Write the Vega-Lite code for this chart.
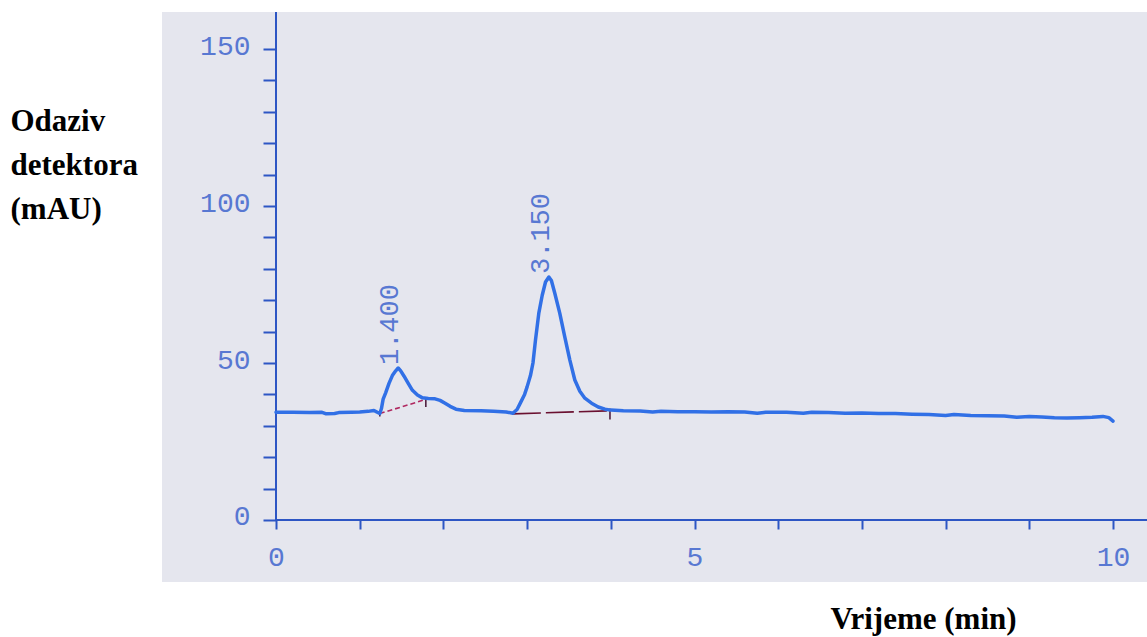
{
  "$schema": "https://vega.github.io/schema/vega-lite/v6.json",
  "width": 985,
  "height": 570,
  "autosize": "none",
  "padding": {"left": 162, "top": 12, "right": 0, "bottom": 55},
  "background": "white",
  "config": {"view": {"stroke": null, "fill": "#e5e6ee"}},
  "datasets": {
    "frame": [{"part": "axes"}],
    "curve": [
      {"t": 0, "v": 34.3}, {"t": 0.2, "v": 34.3}, {"t": 0.4, "v": 34.2}, {"t": 0.55, "v": 34.3}, {"t": 0.6, "v": 33.8},
      {"t": 0.7, "v": 33.9}, {"t": 0.75, "v": 34.2}, {"t": 0.9, "v": 34.3}, {"t": 1.0, "v": 34.4}, {"t": 1.1, "v": 34.6},
      {"t": 1.17, "v": 34.9}, {"t": 1.21, "v": 34.3}, {"t": 1.24, "v": 33.9}, {"t": 1.26, "v": 35.5}, {"t": 1.28, "v": 38.5},
      {"t": 1.31, "v": 40.5}, {"t": 1.35, "v": 43.5}, {"t": 1.39, "v": 46.0}, {"t": 1.43, "v": 47.5}, {"t": 1.46, "v": 48.4},
      {"t": 1.49, "v": 47.5}, {"t": 1.53, "v": 45.8}, {"t": 1.58, "v": 43.5}, {"t": 1.63, "v": 41.3}, {"t": 1.69, "v": 39.8},
      {"t": 1.75, "v": 38.9}, {"t": 1.82, "v": 38.7}, {"t": 1.9, "v": 38.6}, {"t": 1.96, "v": 38.1}, {"t": 2.02, "v": 37.2},
      {"t": 2.08, "v": 36.2}, {"t": 2.15, "v": 35.3}, {"t": 2.25, "v": 34.9}, {"t": 2.45, "v": 34.8}, {"t": 2.6, "v": 34.6},
      {"t": 2.75, "v": 34.4}, {"t": 2.83, "v": 34.0}, {"t": 2.88, "v": 35.2}, {"t": 2.92, "v": 37.3}, {"t": 2.97, "v": 40.0},
      {"t": 3.0, "v": 42.4}, {"t": 3.04, "v": 46.0}, {"t": 3.07, "v": 50.0}, {"t": 3.1, "v": 57.3}, {"t": 3.14, "v": 65.9},
      {"t": 3.18, "v": 71.5}, {"t": 3.22, "v": 75.8}, {"t": 3.26, "v": 77.4}, {"t": 3.29, "v": 76.3}, {"t": 3.33, "v": 72.3},
      {"t": 3.39, "v": 65.9}, {"t": 3.45, "v": 58.3}, {"t": 3.51, "v": 51.0}, {"t": 3.57, "v": 44.6}, {"t": 3.63, "v": 41.0},
      {"t": 3.69, "v": 38.8}, {"t": 3.77, "v": 37.2}, {"t": 3.85, "v": 36.0}, {"t": 3.93, "v": 35.3}, {"t": 4.0, "v": 35.0},
      {"t": 4.15, "v": 34.8}, {"t": 4.35, "v": 34.7}, {"t": 4.5, "v": 34.4}, {"t": 4.6, "v": 34.6}, {"t": 4.8, "v": 34.5},
      {"t": 5.0, "v": 34.5}, {"t": 5.2, "v": 34.4}, {"t": 5.4, "v": 34.5}, {"t": 5.6, "v": 34.4}, {"t": 5.75, "v": 34.0},
      {"t": 5.85, "v": 34.3}, {"t": 6.1, "v": 34.3}, {"t": 6.3, "v": 34.0}, {"t": 6.4, "v": 34.3}, {"t": 6.6, "v": 34.2},
      {"t": 6.8, "v": 34.0}, {"t": 7.0, "v": 34.1}, {"t": 7.2, "v": 33.9}, {"t": 7.4, "v": 33.9}, {"t": 7.6, "v": 33.7},
      {"t": 7.8, "v": 33.6}, {"t": 8.0, "v": 33.3}, {"t": 8.1, "v": 33.6}, {"t": 8.3, "v": 33.3}, {"t": 8.5, "v": 33.2},
      {"t": 8.7, "v": 33.1}, {"t": 8.85, "v": 32.7}, {"t": 9.0, "v": 33.0}, {"t": 9.15, "v": 32.8}, {"t": 9.3, "v": 32.6},
      {"t": 9.45, "v": 32.5}, {"t": 9.6, "v": 32.6}, {"t": 9.75, "v": 32.7}, {"t": 9.88, "v": 33.0}, {"t": 9.95, "v": 32.6},
      {"t": 10.0, "v": 31.5}
    ],
    "peaks": [
      {"t": 1.46, "v": 48.4, "label": "1.400"},
      {"t": 3.26, "v": 77.4, "label": "3.150"}
    ],
    "segs": [
      {"kind": "b1", "t": 1.24, "v": 33.9, "t2": 1.79, "v2": 38.4},
      {"kind": "b2", "t": 2.83, "v": 33.8, "t2": 3.99, "v2": 34.8},
      {"kind": "m", "t": 1.24, "v": 33.0, "t2": 1.24, "v2": 35.0},
      {"kind": "m", "t": 1.79, "v": 36.0, "t2": 1.79, "v2": 39.0},
      {"kind": "m", "t": 3.99, "v": 32.0, "t2": 3.99, "v2": 35.5}
    ]
  },
  "layer": [
    {
      "data": {"name": "frame"},
      "mark": {"type": "rule", "color": "#2d56c4", "strokeWidth": 2},
      "encoding": {
        "x": {"datum": 0, "type": "quantitative", "scale": {"domain": [-1.362, 10.406], "nice": false, "zero": false},
          "axis": {"values": [0, 1, 2, 3, 4, 5, 6, 7, 8, 9, 10], "format": "d", "labelExpr": "datum.value % 5 == 0 ? datum.label : ''", "grid": false, "zindex": 1, "domain": false, "offset": -62, "tickColor": "#2d56c4", "tickWidth": 2, "tickSize": 9, "labelFont": "Liberation Mono", "labelFontSize": 28, "labelColor": "#5878d2", "labelPadding": 14, "labelFlush": false, "labelOverlap": false, "title": "Vrijeme (min)", "titleX": 761, "titleY": 108, "titleAlign": "center", "titleBaseline": "alphabetic", "titleAngle": 0, "titleFont": "Liberation Serif", "titleFontWeight": "bold", "titleFontSize": 31, "titleColor": "#000000"}},
        "y": {"datum": 0, "type": "quantitative", "scale": {"domain": [-19.75, 161.8], "nice": false, "zero": false},
          "axis": {"values": [0, 10, 20, 30, 40, 50, 60, 70, 80, 90, 100, 110, 120, 130, 140, 150], "format": "d", "labelExpr": "datum.value % 50 == 0 ? datum.label : ''", "grid": false, "zindex": 1, "domain": false, "offset": -114, "tickColor": "#2d56c4", "tickWidth": 2, "tickSize": 13, "labelFont": "Liberation Mono", "labelFontSize": 28, "labelColor": "#5878d2", "labelPadding": 13, "labelOffset": -3, "labelOverlap": false, "title": ["Odaziv", "detektora", "(mAU)"], "titleX": -266, "titleY": 118, "titleAlign": "left", "titleBaseline": "alphabetic", "titleAngle": 0, "titleLineHeight": 44, "titleFont": "Liberation Serif", "titleFontWeight": "bold", "titleFontSize": 31, "titleColor": "#000000"}},
        "y2": {"datum": 161.8}
      }
    },
    {
      "data": {"name": "frame"},
      "mark": {"type": "rule", "color": "#2d56c4", "strokeWidth": 2},
      "encoding": {
        "x": {"datum": 0, "type": "quantitative", "scale": {"domain": [-1.362, 10.406], "nice": false, "zero": false},
          "axis": {"values": [0, 1, 2, 3, 4, 5, 6, 7, 8, 9, 10], "format": "d", "labelExpr": "datum.value % 5 == 0 ? datum.label : ''", "grid": false, "zindex": 1, "domain": false, "offset": -62, "tickColor": "#2d56c4", "tickWidth": 2, "tickSize": 9, "labelFont": "Liberation Mono", "labelFontSize": 28, "labelColor": "#5878d2", "labelPadding": 14, "labelFlush": false, "labelOverlap": false, "title": "Vrijeme (min)", "titleX": 761, "titleY": 108, "titleAlign": "center", "titleBaseline": "alphabetic", "titleAngle": 0, "titleFont": "Liberation Serif", "titleFontWeight": "bold", "titleFontSize": 31, "titleColor": "#000000"}},
        "x2": {"datum": 10.406},
        "y": {"datum": 0, "type": "quantitative", "scale": {"domain": [-19.75, 161.8], "nice": false, "zero": false},
          "axis": {"values": [0, 10, 20, 30, 40, 50, 60, 70, 80, 90, 100, 110, 120, 130, 140, 150], "format": "d", "labelExpr": "datum.value % 50 == 0 ? datum.label : ''", "grid": false, "zindex": 1, "domain": false, "offset": -114, "tickColor": "#2d56c4", "tickWidth": 2, "tickSize": 13, "labelFont": "Liberation Mono", "labelFontSize": 28, "labelColor": "#5878d2", "labelPadding": 13, "labelOffset": -3, "labelOverlap": false, "title": ["Odaziv", "detektora", "(mAU)"], "titleX": -266, "titleY": 118, "titleAlign": "left", "titleBaseline": "alphabetic", "titleAngle": 0, "titleLineHeight": 44, "titleFont": "Liberation Serif", "titleFontWeight": "bold", "titleFontSize": 31, "titleColor": "#000000"}}
      }
    },
    {
      "data": {"name": "segs"},
      "mark": {"type": "rule", "strokeWidth": 1.6},
      "encoding": {
        "x": {"field": "t", "type": "quantitative", "scale": {"domain": [-1.362, 10.406], "nice": false, "zero": false},
          "axis": {"values": [0, 1, 2, 3, 4, 5, 6, 7, 8, 9, 10], "format": "d", "labelExpr": "datum.value % 5 == 0 ? datum.label : ''", "grid": false, "zindex": 1, "domain": false, "offset": -62, "tickColor": "#2d56c4", "tickWidth": 2, "tickSize": 9, "labelFont": "Liberation Mono", "labelFontSize": 28, "labelColor": "#5878d2", "labelPadding": 14, "labelFlush": false, "labelOverlap": false, "title": "Vrijeme (min)", "titleX": 761, "titleY": 108, "titleAlign": "center", "titleBaseline": "alphabetic", "titleAngle": 0, "titleFont": "Liberation Serif", "titleFontWeight": "bold", "titleFontSize": 31, "titleColor": "#000000"}},
        "x2": {"field": "t2"},
        "y": {"field": "v", "type": "quantitative", "scale": {"domain": [-19.75, 161.8], "nice": false, "zero": false},
          "axis": {"values": [0, 10, 20, 30, 40, 50, 60, 70, 80, 90, 100, 110, 120, 130, 140, 150], "format": "d", "labelExpr": "datum.value % 50 == 0 ? datum.label : ''", "grid": false, "zindex": 1, "domain": false, "offset": -114, "tickColor": "#2d56c4", "tickWidth": 2, "tickSize": 13, "labelFont": "Liberation Mono", "labelFontSize": 28, "labelColor": "#5878d2", "labelPadding": 13, "labelOffset": -3, "labelOverlap": false, "title": ["Odaziv", "detektora", "(mAU)"], "titleX": -266, "titleY": 118, "titleAlign": "left", "titleBaseline": "alphabetic", "titleAngle": 0, "titleLineHeight": 44, "titleFont": "Liberation Serif", "titleFontWeight": "bold", "titleFontSize": 31, "titleColor": "#000000"}},
        "y2": {"field": "v2"},
        "color": {"field": "kind", "type": "nominal", "scale": {"domain": ["b1", "b2", "m"], "range": ["#b02860", "#6a1030", "#502040"]}, "legend": null},
        "strokeDash": {"field": "kind", "type": "nominal", "scale": {"domain": ["b1", "b2", "m"], "range": [[5, 3], [28, 5], [1, 0]]}, "legend": null}
      }
    },
    {
      "data": {"name": "curve"},
      "mark": {"type": "line", "color": "#3170e6", "strokeWidth": 3.5, "strokeJoin": "round", "strokeCap": "round"},
      "encoding": {
        "x": {"field": "t", "type": "quantitative", "scale": {"domain": [-1.362, 10.406], "nice": false, "zero": false},
          "axis": {"values": [0, 1, 2, 3, 4, 5, 6, 7, 8, 9, 10], "format": "d", "labelExpr": "datum.value % 5 == 0 ? datum.label : ''", "grid": false, "zindex": 1, "domain": false, "offset": -62, "tickColor": "#2d56c4", "tickWidth": 2, "tickSize": 9, "labelFont": "Liberation Mono", "labelFontSize": 28, "labelColor": "#5878d2", "labelPadding": 14, "labelFlush": false, "labelOverlap": false, "title": "Vrijeme (min)", "titleX": 761, "titleY": 108, "titleAlign": "center", "titleBaseline": "alphabetic", "titleAngle": 0, "titleFont": "Liberation Serif", "titleFontWeight": "bold", "titleFontSize": 31, "titleColor": "#000000"}},
        "y": {"field": "v", "type": "quantitative", "scale": {"domain": [-19.75, 161.8], "nice": false, "zero": false},
          "axis": {"values": [0, 10, 20, 30, 40, 50, 60, 70, 80, 90, 100, 110, 120, 130, 140, 150], "format": "d", "labelExpr": "datum.value % 50 == 0 ? datum.label : ''", "grid": false, "zindex": 1, "domain": false, "offset": -114, "tickColor": "#2d56c4", "tickWidth": 2, "tickSize": 13, "labelFont": "Liberation Mono", "labelFontSize": 28, "labelColor": "#5878d2", "labelPadding": 13, "labelOffset": -3, "labelOverlap": false, "title": ["Odaziv", "detektora", "(mAU)"], "titleX": -266, "titleY": 118, "titleAlign": "left", "titleBaseline": "alphabetic", "titleAngle": 0, "titleLineHeight": 44, "titleFont": "Liberation Serif", "titleFontWeight": "bold", "titleFontSize": 31, "titleColor": "#000000"}}
      }
    },
    {
      "data": {"name": "peaks"},
      "mark": {"type": "text", "angle": 270, "align": "left", "baseline": "alphabetic", "dx": 3,
               "font": "Liberation Mono", "fontSize": 27, "color": "#5878d2"},
      "encoding": {
        "x": {"field": "t", "type": "quantitative", "scale": {"domain": [-1.362, 10.406], "nice": false, "zero": false},
          "axis": {"values": [0, 1, 2, 3, 4, 5, 6, 7, 8, 9, 10], "format": "d", "labelExpr": "datum.value % 5 == 0 ? datum.label : ''", "grid": false, "zindex": 1, "domain": false, "offset": -62, "tickColor": "#2d56c4", "tickWidth": 2, "tickSize": 9, "labelFont": "Liberation Mono", "labelFontSize": 28, "labelColor": "#5878d2", "labelPadding": 14, "labelFlush": false, "labelOverlap": false, "title": "Vrijeme (min)", "titleX": 761, "titleY": 108, "titleAlign": "center", "titleBaseline": "alphabetic", "titleAngle": 0, "titleFont": "Liberation Serif", "titleFontWeight": "bold", "titleFontSize": 31, "titleColor": "#000000"}},
        "y": {"field": "v", "type": "quantitative", "scale": {"domain": [-19.75, 161.8], "nice": false, "zero": false},
          "axis": {"values": [0, 10, 20, 30, 40, 50, 60, 70, 80, 90, 100, 110, 120, 130, 140, 150], "format": "d", "labelExpr": "datum.value % 50 == 0 ? datum.label : ''", "grid": false, "zindex": 1, "domain": false, "offset": -114, "tickColor": "#2d56c4", "tickWidth": 2, "tickSize": 13, "labelFont": "Liberation Mono", "labelFontSize": 28, "labelColor": "#5878d2", "labelPadding": 13, "labelOffset": -3, "labelOverlap": false, "title": ["Odaziv", "detektora", "(mAU)"], "titleX": -266, "titleY": 118, "titleAlign": "left", "titleBaseline": "alphabetic", "titleAngle": 0, "titleLineHeight": 44, "titleFont": "Liberation Serif", "titleFontWeight": "bold", "titleFontSize": 31, "titleColor": "#000000"}},
        "text": {"field": "label"}
      }
    }
  ]
}
